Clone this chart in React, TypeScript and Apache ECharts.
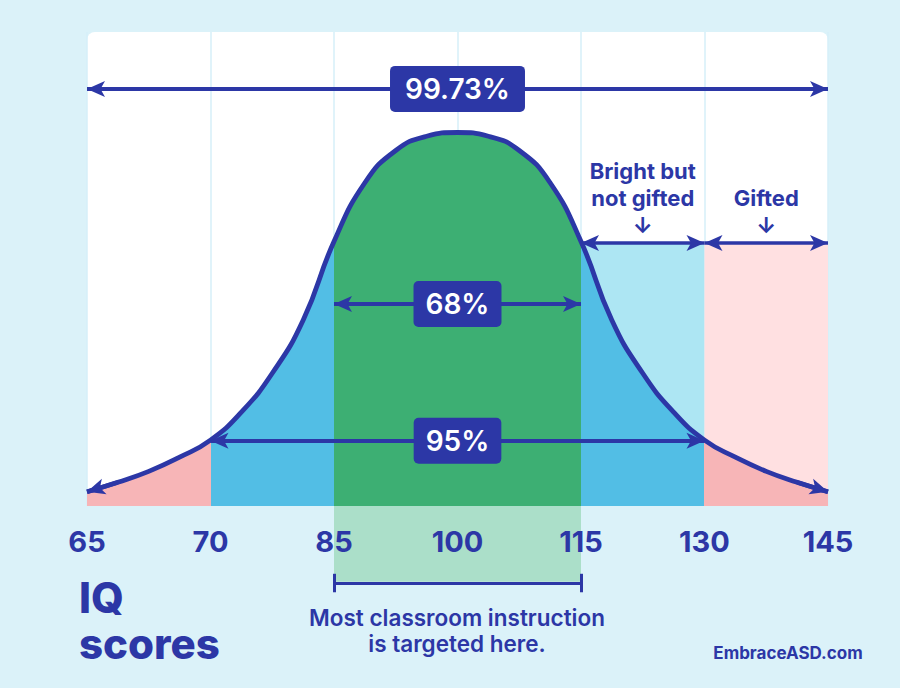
import React, { useEffect, useRef } from 'react';
import * as echarts from 'echarts';

// Axis: standard deviations from the mean, labelled with IQ scores
const sigmaTicks = [-3, -2, -1, 0, 1, 2, 3];
const iqTickLabels = ['65', '70', '85', '100', '115', '130', '145'];

// Bell curve (height in chart units, 0 = panel bottom)
const curveSigma = [-3, -2.75, -2.5, -2.25, -2, -1.75, -1.5, -1.25, -1, -0.75, -0.5, -0.25, 0,
  0.25, 0.5, 0.75, 1, 1.25, 1.5, 1.75, 2, 2.25, 2.5, 2.75, 3];
const curveHeight = [3.0, 5.0, 7.3, 10.3, 13.9, 19.8, 28.0, 39.2, 55.8, 68.2, 75.0, 78.0, 78.8,
  78.0, 75.0, 68.2, 55.8, 39.2, 28.0, 19.8, 13.9, 10.3, 7.3, 5.0, 3.0];

// Percentage spans
const spanLabels = ['99.73%', '68%', '95%'];
const spanFrom = [-3, -1, -2];
const spanTo = [3, 1, 2];
const spanLevel = [88, 42.6, 13.75];

// Upper zones
const zoneLabels = ['Bright but\nnot gifted\n↓', 'Gifted\n↓'];
const zoneFrom = [1, 2];
const zoneTo = [2, 3];
const zoneTop = 55.5;
const zoneLabelLevel = [65.0, 62.2];

// Classroom instruction target band
const targetFrom = -1;
const targetTo = 1;
const targetDepth = -16;
const bracketLevel = -16.2;
const bracketTickTop = -14.3;
const bracketTickBottom = -18.2;

const NAVY = '#2c37a6';
const BG = '#dbf2f9';
const PINK = '#f7b5b7';
const BLUE = '#52bee5';
const GREEN = '#3daf73';
const CYAN_LIGHT = '#ade6f3';
const PINK_LIGHT = '#ffe0e1';
const GREEN_LIGHT = '#abdfc9';
const FONT = 'Inter, "Noto Sans", "DejaVu Sans", sans-serif';

export default function App() {
  const ref = useRef<HTMLDivElement>(null);

  useEffect(() => {
    if (!ref.current) return;
    const chart = echarts.init(ref.current, undefined, { renderer: 'svg' });

    const curveData = curveSigma.map((s, i) => [s, curveHeight[i]]);
    const zoneColors = [CYAN_LIGHT, PINK_LIGHT];

    const baseX = {
      type: 'value',
      min: -3,
      max: 3,
      interval: 1,
      position: 'bottom',
      axisLine: { show: false, onZero: false },
      axisTick: { show: false },
    };

    const option: any = {
      animation: false,
      backgroundColor: BG,
      grid: [
        { left: 87, right: 72, top: 32, bottom: 87.2 },
        { left: 87, right: 72, top: 32, bottom: 182 },
      ],
      xAxis: [
        {
          ...baseX,
          gridIndex: 0,
          z: 20,
          splitLine: { show: false },
          axisLabel: {
            formatter: (v: number) => {
              const i = sigmaTicks.indexOf(v);
              return i >= 0 ? iqTickLabels[i] : '';
            },
            margin: -59,
            verticalAlign: 'middle',
            color: NAVY,
            fontSize: 29,
            fontWeight: 700,
            fontFamily: FONT,
          },
        },
        {
          ...baseX,
          gridIndex: 1,
          z: 0,
          splitLine: { show: true, lineStyle: { color: '#d6eff8', width: 1.5 } },
          axisLabel: { show: false },
        },
      ],
      yAxis: [
        { type: 'value', gridIndex: 0, min: -20, max: 100, show: false },
        { type: 'value', gridIndex: 1, min: 0, max: 100, show: false },
      ],
      visualMap: {
        type: 'piecewise',
        show: false,
        dimension: 0,
        seriesIndex: 0,
        pieces: [
          { lt: -2, color: PINK },
          { gte: -2, lt: -1, color: BLUE },
          { gte: -1, lte: 1, color: GREEN },
          { gt: 1, lte: 2, color: BLUE },
          { gt: 2, color: PINK },
        ],
      },
      graphic: [
        {
          type: 'rect',
          z: -10,
          silent: true,
          shape: { x: 87, y: 32, width: 741, height: 474, r: 8 },
          style: { fill: '#ffffff' },
        },
        {
          type: 'text',
          x: 79,
          y: 597,
          silent: true,
          style: {
            text: 'IQ',
            fill: NAVY,
            fontSize: 42,
            fontWeight: 800,
            fontFamily: FONT,
            verticalAlign: 'middle',
          },
        },
        {
          type: 'text',
          x: 79,
          y: 643,
          silent: true,
          style: {
            text: 'scores',
            fill: NAVY,
            fontSize: 42,
            fontWeight: 800,
            fontFamily: FONT,
            verticalAlign: 'middle',
          },
        },
        {
          type: 'text',
          x: 457,
          y: 604,
          silent: true,
          style: {
            text: 'Most classroom instruction\nis targeted here.',
            fill: NAVY,
            fontSize: 22.5,
            fontWeight: 600,
            fontFamily: FONT,
            lineHeight: 26,
            align: 'center',
            verticalAlign: 'top',
          },
        },
        {
          type: 'text',
          x: 788,
          y: 653,
          silent: true,
          style: {
            text: 'EmbraceASD.com',
            fill: NAVY,
            fontSize: 17,
            fontWeight: 700,
            fontFamily: FONT,
            align: 'center',
            verticalAlign: 'middle',
          },
        },
      ],
      series: [
        {
          type: 'line',
          z: 2,
          smooth: true,
          showSymbol: false,
          silent: true,
          data: curveData,
          lineStyle: { width: 0 },
          areaStyle: { opacity: 1 },
          markArea: {
            silent: true,
            label: { show: false },
            data: [
              ...zoneFrom.map((f, i) => [
                { coord: [f, 0], itemStyle: { color: zoneColors[i], opacity: 1 } },
                { coord: [zoneTo[i], zoneTop] },
              ]),
              [
                { coord: [targetFrom, targetDepth], itemStyle: { color: GREEN_LIGHT, opacity: 1 } },
                { coord: [targetTo, 0] },
              ],
            ],
          },
        },
        {
          type: 'line',
          z: 3,
          smooth: true,
          showSymbol: false,
          silent: true,
          data: curveData,
          lineStyle: { color: NAVY, width: 4.8 },
          markLine: {
            silent: true,
            symbolSize: [12, 18],
            label: { show: false },
            lineStyle: { color: NAVY, width: 4, type: 'solid', opacity: 1 },
            data: [
              // curve end arrows
              [
                { coord: [curveSigma[1], curveHeight[1]], symbol: 'none', lineStyle: { width: 4.5 } },
                { coord: [curveSigma[0], curveHeight[0]], symbol: 'arrow' },
              ],
              [
                { coord: [curveSigma[curveSigma.length - 2], curveHeight[curveHeight.length - 2]], symbol: 'none', lineStyle: { width: 4.5 } },
                { coord: [curveSigma[curveSigma.length - 1], curveHeight[curveHeight.length - 1]], symbol: 'arrow' },
              ],
              // percentage spans
              ...spanLabels.map((_, i) => [
                { coord: [spanFrom[i], spanLevel[i]], symbol: 'arrow' },
                { coord: [spanTo[i], spanLevel[i]], symbol: 'arrow' },
              ]),
              // zone spans
              ...zoneFrom.map((f, i) => [
                { coord: [f, zoneTop], symbol: 'arrow', lineStyle: { width: 3.5 } },
                { coord: [zoneTo[i], zoneTop], symbol: 'arrow' },
              ]),
              // bracket
              [
                { coord: [targetFrom, bracketLevel], symbol: 'none', lineStyle: { width: 3 } },
                { coord: [targetTo, bracketLevel], symbol: 'none' },
              ],
              [
                { coord: [targetFrom, bracketTickTop], symbol: 'none', lineStyle: { width: 3 } },
                { coord: [targetFrom, bracketTickBottom], symbol: 'none' },
              ],
              [
                { coord: [targetTo, bracketTickTop], symbol: 'none', lineStyle: { width: 3 } },
                { coord: [targetTo, bracketTickBottom], symbol: 'none' },
              ],
            ],
          },
        },
        {
          type: 'scatter',
          z: 10,
          silent: true,
          symbolSize: 1,
          itemStyle: { color: 'rgba(0,0,0,0)', opacity: 1 },
          data: spanLabels.map((t, i) => ({
            name: t,
            value: [(spanFrom[i] + spanTo[i]) / 2, spanLevel[i]],
            label: { padding: i === 0 ? [7, 15] : [7, 12] },
          })),
          label: {
            show: true,
            position: 'inside',
            formatter: (p: any) => p.name,
            color: '#ffffff',
            opacity: 1,
            fontSize: 28,
            fontWeight: 600,
            fontFamily: FONT,
            backgroundColor: NAVY,
            borderRadius: 5,
            lineHeight: 32,
          },
        },
        {
          type: 'scatter',
          z: 10,
          silent: true,
          symbolSize: 1,
          itemStyle: { color: 'rgba(0,0,0,0)', opacity: 1 },
          data: zoneLabels.map((t, i) => ({ name: t, value: [(zoneFrom[i] + zoneTo[i]) / 2, zoneLabelLevel[i]] })),
          label: {
            show: true,
            position: 'inside',
            formatter: (p: any) => p.name,
            color: NAVY,
            opacity: 1,
            fontSize: 22,
            fontWeight: 700,
            fontFamily: FONT,
            lineHeight: 27,
            align: 'center',
          },
        },
      ],
    };

    chart.setOption(option);
    return () => chart.dispose();
  }, []);

  return (
    <div
      ref={ref}
      style={{ position: 'absolute', left: 0, top: 0, width: 900, height: 688 }}
    />
  );
}
